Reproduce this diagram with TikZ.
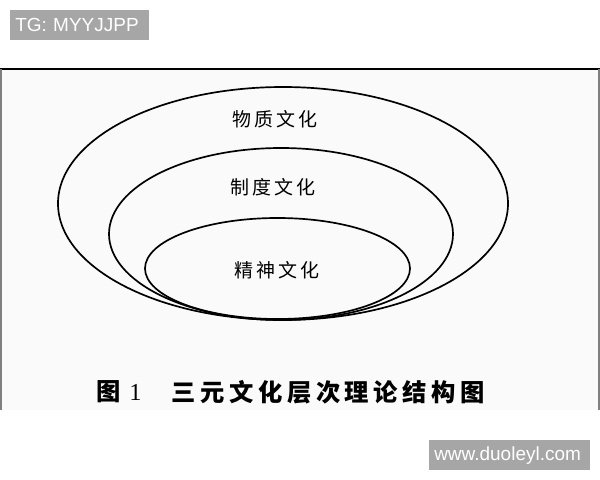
\documentclass[tikz,border=0pt]{standalone}
\usepackage{fontspec}
\usepackage{tikz}
\setmainfont{Liberation Serif}
\newfontfamily\cjk[LetterSpace=15]{Noto Sans CJK SC}
\newfontfamily\cjkcap[LetterSpace=19]{Noto Sans CJK SC}
\newfontfamily\wmfont{Liberation Sans}
\definecolor{tagbg}{HTML}{A6A6A6}
\definecolor{paper}{HTML}{FAFAFA}

\begin{document}
\begin{tikzpicture}[
x=0.025cm, y=-0.025cm,
ring/.style={line width=1.2pt},
layer/.style={inner sep=0pt,font=\cjk\fontsize{13.5}{15}\selectfont},
caption/.style={inner sep=0pt,anchor=west,font=\cjkcap\bfseries\fontsize{17.3}{19}\selectfont},
tag/.style={anchor=north west,fill=tagbg,text=white,inner xsep=0.125cm,inner ysep=0pt,
  minimum height=0.75cm,align=left,font=\wmfont\fontsize{13.5}{15}\selectfont}]
    % page and frame
    \useasboundingbox (0,0) rectangle (600,480);
    \fill[paper] (0,69) rectangle (600,410);
    \draw[line width=1pt] (0,69) -- (600,69);
    \draw[gray,line width=0.8pt] (1,69) -- (1,410);
    \draw[gray,line width=0.8pt] (599,69) -- (599,410);

    % the three layers
    \draw[ring] (283,203.5) ellipse [x radius=225, y radius=116.5];
    \draw[ring] (281,234) ellipse [x radius=172, y radius=86];
    \draw[ring] (277.5,268.5) ellipse [x radius=132.5, y radius=50.5];

    \node[layer] (material) at (275,119) {物质文化};
    \node[layer] (system) at (273,187) {制度文化};
    \node[layer] (spirit) at (277,270) {精神文化};

    % caption
    \node[caption] (capfig) at (96,392) {图};
    \node[caption,font=\rmfamily\fontsize{17.3}{19}\selectfont] (capnum) at (129,392) {1};
    \node[caption] (captitle) at (171,392) {三元文化层次理论结构图};

    % watermarks
    \node[tag,text width=3.225cm] (tg) at (10,10) {TG: MYYJJPP};
    \node[tag,text width=3.775cm] (site) at (429,440) {www.duoleyl.com};

\end{tikzpicture}
\end{document}
